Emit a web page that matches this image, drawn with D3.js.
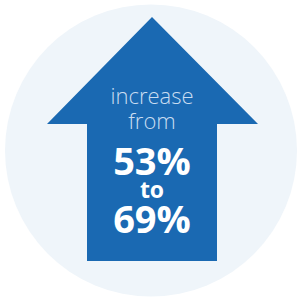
<!DOCTYPE html>
<html lang="en">
<head>
	<meta charset="UTF-8">
	<title>Increase arrow</title>
	<script src="https://cdn.jsdelivr.net/npm/d3@7"></script>
	<style>
		html, body { margin: 0; padding: 0; background: #fff; }
		svg { display: block; }
	</style>
</head>
<body>
	<div id="chart"></div>
	<script>
	// values shown in the graphic
	var labels = ["increase", "from"];
	var values = [53, 69];
	var joinWord = "to";

	var width = 297, height = 299;
	var blue = "#1a69b2", pale = "#eff5fa", soft = "#c9ddf1";

	var svg = d3.select("#chart").append("svg")
		.attr("width", width).attr("height", height);

	svg.append("circle")
		.attr("cx", 151).attr("cy", 150.5).attr("r", 146)
		.attr("fill", pale);

	// arrow outline
	var arrow = [[152, 17], [258, 124], [217, 124], [217, 261],
		[87, 261], [87, 124], [47, 124]];
	svg.append("path")
		.attr("d", d3.line()(arrow) + "Z")
		.attr("fill", blue);

	var fmt = function (v) { return v + "%"; };

	svg.selectAll("text.lab").data(labels).enter()
		.append("text").attr("class", "lab")
		.attr("x", 152)
		.attr("y", function (d, i) { return 104 + i * 25; })
		.attr("text-anchor", "middle")
		.style("font-family", "'Open Sans', sans-serif")
		.style("font-weight", 300)
		.style("font-size", "22px")
		.attr("fill", soft)
		.text(function (d) { return d; });

	var big = [fmt(values[0]), joinWord, fmt(values[1])];
	var ys = [175, 198, 233];
	var sizes = [38, 23, 38];
	svg.selectAll("text.big").data(big).enter()
		.append("text").attr("class", "big")
		.attr("x", 152)
		.attr("y", function (d, i) { return ys[i]; })
		.attr("text-anchor", "middle")
		.style("font-family", "'Open Sans', sans-serif")
		.style("font-weight", 700)
		.style("font-size", function (d, i) { return sizes[i] + "px"; })
		.attr("fill", "#fff")
		.text(function (d) { return d; });
	</script>
</body>
</html>
